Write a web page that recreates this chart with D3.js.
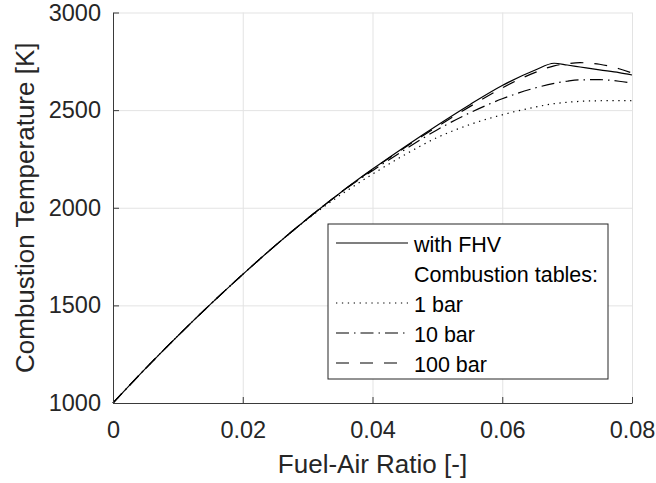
<!DOCTYPE html>
<html>
<head>
<meta charset="utf-8">
<script src="https://cdn.jsdelivr.net/npm/d3@7"></script>
<style>
  html, body { margin: 0; padding: 0; background: #fff; }
  svg { display: block; font-family: "Liberation Sans", Arial, Helvetica, sans-serif; }
  .grid line { stroke: #e3e3e3; stroke-width: 1; }
  .grid path { display: none; }
  .axis path, .axis line { stroke: #3a3a3a; stroke-width: 1; }
  .axis text { fill: #262626; font-size: 23.5px; }
</style>
</head>
<body>
<div id="chart"></div>
<script>
// fuel-air ratio samples (shared by every curve)
const fuelAirRatio = [0, 0.005, 0.01, 0.015, 0.02, 0.025, 0.03, 0.035, 0.04, 0.045,
    0.05, 0.055, 0.06, 0.065, 0.068, 0.07, 0.072, 0.075, 0.078, 0.08];

// combustion temperature [K]
const tempFHV    = [1000, 1176, 1344, 1505, 1659, 1806, 1945, 2076, 2198, 2313,
    2423, 2528, 2626, 2704, 2740, 2731, 2721, 2706, 2692, 2680];
const temp1bar   = [1000, 1176, 1344, 1505, 1659, 1806, 1942, 2064, 2172, 2272,
    2360, 2426, 2476, 2515, 2533, 2540, 2545, 2548, 2549, 2548];
const temp10bar  = [1000, 1176, 1344, 1505, 1659, 1806, 1945, 2075, 2190, 2298,
    2400, 2486, 2558, 2613, 2637, 2648, 2655, 2656, 2648, 2638];
const temp100bar = [1000, 1176, 1344, 1505, 1659, 1806, 1945, 2076, 2196, 2309,
    2416, 2518, 2614, 2692, 2727, 2738, 2743, 2735, 2712, 2690];

const xTicks = [0, 0.02, 0.04, 0.06, 0.08];
const yTicks = [1000, 1500, 2000, 2500, 3000];

const legendLabels = ["with FHV", "Combustion tables:", "1 bar", "10 bar", "100 bar"];

const series = [
    { name: "with FHV", values: tempFHV, dash: null },
    { name: "1 bar", values: temp1bar, dash: "1.3,4.6" },
    { name: "10 bar", values: temp10bar, dash: "13,5,1.5,5" },
    { name: "100 bar", values: temp100bar, dash: "13,11" }
];

const width = 656;
const height = 483;
const margin = { top: 12.5, right: 24, bottom: 80, left: 113 };
const innerW = width - margin.left - margin.right;
const innerH = height - margin.top - margin.bottom;

const svg = d3.select("#chart").append("svg")
    .attr("width", width)
    .attr("height", height);

const g = svg.append("g")
    .attr("transform", `translate(${margin.left},${margin.top})`);

const x = d3.scaleLinear().domain([0, 0.08]).range([0, innerW]);
const y = d3.scaleLinear().domain([1000, 3000]).range([innerH, 0]);

// grid
g.append("g")
    .attr("class", "grid")
    .attr("transform", `translate(0,${innerH})`)
    .call(d3.axisBottom(x).tickValues(xTicks).tickSize(-innerH).tickFormat(""));
g.append("g")
    .attr("class", "grid")
    .call(d3.axisLeft(y).tickValues(yTicks).tickSize(-innerW).tickFormat(""));

// curves
const line = d3.line()
    .x((d, i) => x(fuelAirRatio[i]))
    .y(d => y(d))
    .curve(d3.curveMonotoneX);

series.forEach(s => {
    g.append("path")
        .datum(s.values)
        .attr("fill", "none")
        .attr("stroke", "#000")
        .attr("stroke-width", 1.2)
        .attr("stroke-dasharray", s.dash)
        .attr("d", line);
});

// axes (ticks inward like matlab)
g.append("g")
    .attr("class", "axis")
    .attr("transform", `translate(0,${innerH})`)
    .call(d3.axisBottom(x).tickValues(xTicks).tickSizeInner(-6).tickSizeOuter(0)
        .tickPadding(18).tickFormat(d => d === 0 ? "0" : d3.format(".2f")(d)));

g.append("g")
    .attr("class", "axis")
    .call(d3.axisLeft(y).tickValues(yTicks).tickSizeInner(-6).tickSizeOuter(0)
        .tickPadding(12).tickFormat(d3.format("d")));

// axis labels
svg.append("text")
    .attr("x", margin.left + innerW / 2)
    .attr("y", 473)
    .attr("text-anchor", "middle")
    .attr("fill", "#262626")
    .style("font-size", "26px")
    .text("Fuel-Air Ratio [-]");

svg.append("text")
    .attr("transform", `translate(34,${margin.top + innerH / 2}) rotate(-90)`)
    .attr("text-anchor", "middle")
    .attr("fill", "#262626")
    .style("font-size", "26px")
    .text("Combustion Temperature [K]");

// legend
const legend = svg.append("g").attr("transform", "translate(328,224)");

legend.append("rect")
    .attr("width", 280)
    .attr("height", 155)
    .attr("fill", "#fff")
    .attr("stroke", "#262626")
    .attr("stroke-width", 1);

legendLabels.forEach((label, i) => {
    const row = legend.append("g").attr("transform", `translate(0,${28 + i * 30})`);
    const s = series.find(d => d.name === label);
    if (s) {
        row.append("line")
            .attr("x1", 8).attr("x2", 80)
            .attr("y1", -9).attr("y2", -9)
            .attr("stroke", "#000")
            .attr("stroke-width", 1.2)
            .attr("stroke-dasharray", s.dash);
    }
    row.append("text")
        .attr("x", 86)
        .attr("fill", "#000")
        .style("font-size", "21.5px")
        .text(label);
});
</script>
</body>
</html>
